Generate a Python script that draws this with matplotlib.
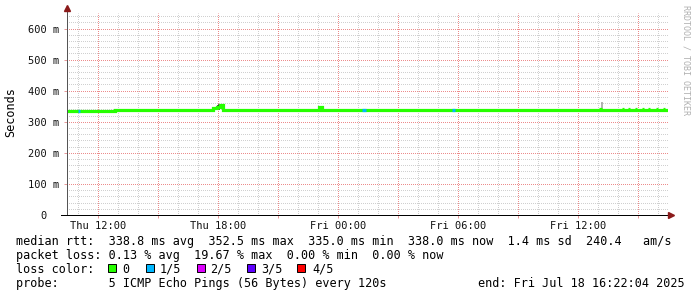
import matplotlib
matplotlib.use('Agg')
import numpy as np
import matplotlib.pyplot as plt
from matplotlib.patches import Rectangle
from matplotlib.transforms import ScaledTranslation

plt.rcParams['font.family'] = 'DejaVu Sans Mono'

# time axis in hours since Thu 00:00
t_first, t_last = 10.43, 40.49

# median rtt (ms), step series: value holds from med_t[i] to med_t[i+1]
med_t = [10.43, 12.83, 17.73, 17.93, 18.08, 18.23, 23.03, 23.18, 36.62, 40.37]
med_ms = [335.3, 338.6, 343.0, 347.0, 352.5, 339.0, 347.0, 339.0, 338.0]

# cycles with 1/5 packet loss
loss_start = [10.96, 25.17, 29.67]
loss_end = [11.06, 25.37, 29.85]
loss_ms = [335.3, 339.0, 339.0]

# small steps up in the last hours
bump_start = [37.03, 38.18, 38.48, 38.83, 39.18, 39.48, 39.88, 40.23]
bump_end = [37.18, 38.28, 38.58, 38.93, 39.28, 39.58, 39.98, 40.33]
bump_ms = [342, 342, 342, 342, 342, 342, 342, 342]

# smoke (spread of the single pings)
smoke_t = [17.98, 18.05, 23.12, 37.21]
smoke_lo = [338, 338, 338, 341]
smoke_hi = [355, 357, 344, 363]
smoke_col = ['#222222', '#333333', '#444444', '#9a9a9a']

loss_labels = ['0', '1/5', '2/5', '3/5', '4/5']
loss_colors = ['#26ff00', '#00b8ff', '#dd00ff', '#5e00ff', '#ff0000']

xtick_pos = [12, 18, 24, 30, 36]
xtick_txt = ['Thu 12:00', 'Thu 18:00', 'Fri 00:00', 'Fri 06:00', 'Fri 12:00']

stats_rtt = 'median rtt:  338.8 ms avg  352.5 ms max  335.0 ms min  338.0 ms now  1.4 ms sd  240.4   am/s'
stats_loss = 'packet loss: 0.13 % avg  19.67 % max  0.00 % min  0.00 % now'
probe_txt = 'probe:       5 ICMP Echo Pings (56 Bytes) every 120s'
end_txt = 'end: Fri Jul 18 16:22:04 2025'

W, H = 697, 297
fig = plt.figure(figsize=(W / 100, H / 100), dpi=100, facecolor='white')
px = 72 / fig.dpi
ax = fig.add_axes([67 / W, 1 - 215 / H, 601 / W, 202 / H])
ax.set_xlim(t_first, t_last)
ax.set_ylim(0, 650)

# grid (1px dots; offset so the dots land on whole pixels)
ax.set_xticks(np.arange(12, 41, 3))
ax.set_xticklabels([xtick_txt[xtick_pos.index(t)] if t in xtick_pos else '' for t in range(12, 41, 3)])
ax.set_xticks(np.arange(11, 41, 1), minor=True)
ax.set_yticks(np.arange(0, 601, 100))
ax.set_yticklabels(['0'] + ['%d m' % v for v in range(100, 601, 100)])
ax.set_yticks(np.arange(20, 641, 20), minor=True)
ax.grid(which='minor', color='#d0d0d0', lw=1 * px, ls=(0.5, (1, 1)))
ax.grid(which='major', color='#ec8c8c', lw=1 * px, ls=(0.5, (1, 1)))
ax.set_axisbelow(True)
ax.tick_params(which='major', length=3 * px, width=1 * px, color='#e89a9a',
               labelsize=7.5, labelcolor='#111111')
ax.tick_params(axis='x', pad=2.5)
ax.tick_params(axis='y', pad=3.6)
ax.tick_params(which='minor', length=0)
# the "0" label sits where the number part of the other labels sits
zero_lab = ax.get_yticklabels()[0]
zero_lab.set_transform(zero_lab.get_transform() + ScaledTranslation(-12.5 / 100, 0, fig.dpi_scale_trans))
for s in ax.spines.values():
    s.set_visible(False)

# axes with arrows
ax.plot([0, 0], [0, 1 + 5 / 202], color='#555555', lw=1 * px, transform=ax.transAxes, clip_on=False, zorder=5)
ax.plot([-6 / 601, 1 + 2 / 601], [0, 0], color='black', lw=1 * px, transform=ax.transAxes, clip_on=False, zorder=5)
ax.plot([0], [1 + 5 / 202], marker='^', ms=5, color='#8b1a1a', transform=ax.transAxes, clip_on=False, zorder=6)
ax.plot([1 + 3 / 601], [0], marker='>', ms=5, color='#8b1a1a', transform=ax.transAxes, clip_on=False, zorder=6)

# smoke
ax.vlines(smoke_t, smoke_lo, smoke_hi, colors=smoke_col, lw=1.5 * px, zorder=2)
# median
ax.plot(med_t, med_ms + [med_ms[-1]], drawstyle='steps-post', color=loss_colors[0],
        lw=3.2 * px, solid_joinstyle='miter', zorder=3)
ax.hlines(bump_ms, bump_start, bump_end, colors=loss_colors[0], lw=3.2 * px, zorder=3)
ax.hlines(loss_ms, loss_start, loss_end, colors=loss_colors[1], lw=3.2 * px, zorder=4)

# texts
fs = 8.45
fig.text(11 / W, 1 - 112 / H, 'Seconds', rotation=90, ha='center', va='center', fontsize=fs)
fig.text(686 / W, 1 - 5 / H, 'RRDTOOL / TOBI OETIKER', rotation=270, ha='center', va='top',
         fontsize=6, color='#b0b0b0')
fig.text(15.5 / W, 1 - 245 / H, stats_rtt, fontsize=fs, va='baseline')
fig.text(15.5 / W, 1 - 259 / H, stats_loss, fontsize=fs, va='baseline')
fig.text(15.5 / W, 1 - 273 / H, 'loss color:', fontsize=fs, va='baseline')
swatch_x = [108, 146, 197, 247, 297]
label_x = [122.5, 159.5, 210.5, 261.5, 312.5]
for sx, lx, lab, col in zip(swatch_x, label_x, loss_labels, loss_colors):
    fig.patches.append(Rectangle((sx / W, 1 - 272 / H), 8 / W, 8 / H, transform=fig.transFigure,
                                 facecolor=col, edgecolor='black', lw=0.7))
    fig.text(lx / W, 1 - 273 / H, lab, fontsize=fs, va='baseline')
fig.text(15.5 / W, 1 - 287 / H, probe_txt, fontsize=fs, va='baseline')
fig.text(477.5 / W, 1 - 287 / H, end_txt, fontsize=fs, va='baseline')

fig.savefig('out.png', dpi=100, facecolor='white')
